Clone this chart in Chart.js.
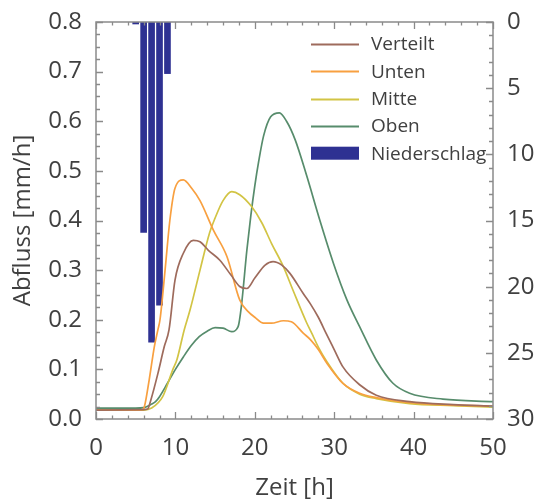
<!DOCTYPE html>
<html>
<head>
<meta charset="utf-8">
<script src="https://cdn.jsdelivr.net/npm/chart.js@4/dist/chart.umd.min.js"></script>
<style>
  html, body { margin: 0; padding: 0; background: #ffffff; }
  #wrap { width: 538px; height: 503px; }
</style>
</head>
<body>
<div id="wrap"><canvas id="c" width="538" height="503"></canvas></div>
<script>
// ---- Data ----
const seriesLabels = ['Verteilt', 'Unten', 'Mitte', 'Oben', 'Niederschlag'];

const verteiltT = [0, 6, 6.5, 6.9, 7.8, 8.6, 9.2, 9.95, 11, 12.25, 13.1, 14.15, 15.6, 17, 18.1, 19, 20, 21.3, 22.3, 23.4, 24.4, 26.1, 27, 28, 29, 30, 31.1, 33.2, 35.3, 39.5, 45, 50];
const verteiltV = [0.018, 0.019, 0.02, 0.038, 0.092, 0.146, 0.18, 0.28, 0.334, 0.36, 0.357, 0.34, 0.32, 0.29, 0.267, 0.263, 0.284, 0.31, 0.317, 0.31, 0.294, 0.253, 0.232, 0.205, 0.172, 0.14, 0.105, 0.069, 0.048, 0.035, 0.029, 0.026];

const untenT = [0, 5.5, 5.9, 6.1, 6.7, 7.35, 7.8, 8.06, 8.7, 9.3, 9.95, 11, 12.05, 13.1, 14.8, 16.5, 18.1, 19.2, 20, 21.1, 22.1, 23.6, 24.6, 26.1, 27, 28, 29.1, 31.1, 33.2, 35.3, 39.5, 45, 50];
const untenV = [0.018, 0.018, 0.019, 0.025, 0.079, 0.146, 0.18, 0.2, 0.30, 0.40, 0.465, 0.482, 0.465, 0.44, 0.38, 0.327, 0.24, 0.216, 0.205, 0.193, 0.193, 0.198, 0.196, 0.173, 0.16, 0.14, 0.112, 0.072, 0.052, 0.043, 0.033, 0.028, 0.026];

const mitteT = [0, 6, 7, 8.4, 9.66, 10.2, 11.1, 11.85, 13.1, 14.3, 15, 16, 17.1, 18.1, 19.6, 20.9, 22.1, 23.6, 24.8, 26.5, 27.2, 28, 29.1, 31.1, 33.2, 35.3, 39.5, 45, 50];
const mitteV = [0.018, 0.018, 0.022, 0.045, 0.099, 0.12, 0.179, 0.22, 0.30, 0.375, 0.405, 0.44, 0.458, 0.452, 0.428, 0.395, 0.354, 0.307, 0.26, 0.195, 0.172, 0.145, 0.115, 0.072, 0.05, 0.041, 0.031, 0.027, 0.024];

const obenT = [0, 5, 6, 7, 7.5, 8, 9, 10, 11, 12, 13, 14, 15, 16, 17.1, 17.9, 18.3, 19, 19.5, 20, 20.5, 21.1, 22, 23.1, 24, 25.1, 26.5, 28.2, 29.9, 31.6, 33.2, 35.3, 37.4, 39.5, 43.7, 50];
const obenV = [0.022, 0.022, 0.023, 0.03, 0.035, 0.045, 0.072, 0.1, 0.125, 0.148, 0.166, 0.177, 0.184, 0.183, 0.176, 0.186, 0.226, 0.34, 0.41, 0.47, 0.52, 0.57, 0.609, 0.617, 0.6, 0.562, 0.492, 0.40, 0.314, 0.24, 0.186, 0.119, 0.072, 0.052, 0.04, 0.035];

const niederschlagT = [5, 6, 7, 8, 9];
const niederschlagV = [0.15, 15.9, 24.2, 21.4, 3.9];

const xTickValues = [0, 10, 20, 30, 40, 50];
const yTickValues = [0.0, 0.1, 0.2, 0.3, 0.4, 0.5, 0.6, 0.7, 0.8];
const y2TickValues = [0, 5, 10, 15, 20, 25, 30];

// ---- helpers ----
const pts = (t, v) => t.map((x, i) => ({ x: x, y: v[i] }));
const TEXT = '#404040';
const FRAME = '#8a8a8a';
const FONT = "'Open Sans', 'Noto Sans', sans-serif";

const colors = {
  Verteilt: '#9e6b5c',
  Unten: '#f8a040',
  Mitte: '#d2c444',
  Oben: '#578c6c',
  Niederschlag: '#2e3192'
};

function lineDs(label, t, v) {
  return {
    type: 'line', label: label, data: pts(t, v),
    borderColor: colors[label], backgroundColor: colors[label],
    borderWidth: 1.7, pointRadius: 0, fill: false,
    cubicInterpolationMode: 'monotone', yAxisID: 'y', order: 1
  };
}

// inward tick marks + frame
const frameTicks = {
  id: 'frameTicks',
  afterDatasetsDraw(chart) {
    const { ctx, chartArea: a, scales } = chart;
    ctx.save();
    ctx.strokeStyle = FRAME;
    ctx.lineWidth = 1.3;
    ctx.beginPath();
    scales.x.ticks.forEach(tk => {
      const px = Math.round(scales.x.getPixelForValue(tk.value)) + 0.5;
      const major = xTickValues.includes(tk.value);
      const len = major ? 7 : 3.5;
      ctx.moveTo(px, a.bottom); ctx.lineTo(px, a.bottom - len);
      ctx.moveTo(px, a.top); ctx.lineTo(px, a.top + len);
    });
    scales.y.ticks.forEach(tk => {
      const py = Math.round(scales.y.getPixelForValue(tk.value)) + 0.5;
      const major = yTickValues.some(v => Math.abs(v - tk.value) < 1e-6);
      const len = major ? 7 : 4;
      ctx.moveTo(a.left, py); ctx.lineTo(a.left + len, py);
    });
    scales.y2.ticks.forEach(tk => {
      const py = Math.round(scales.y2.getPixelForValue(tk.value)) + 0.5;
      const major = y2TickValues.includes(tk.value);
      const len = major ? 7 : 4;
      ctx.moveTo(a.right, py); ctx.lineTo(a.right - len, py);
    });
    ctx.stroke();
    ctx.lineWidth = 1.5;
    ctx.strokeRect(a.left, a.top, a.right - a.left, a.bottom - a.top);
    ctx.restore();
  }
};

// legend inside the plot area
const insideLegend = {
  id: 'insideLegend',
  afterDraw(chart) {
    const { ctx, chartArea: a } = chart;
    const x0 = a.left + 215, lineW = 48, textX = a.left + 275;
    const y0 = a.top + 22, dy = 27.3;
    ctx.save();
    ctx.font = "19px " + FONT;
    ctx.textBaseline = 'middle';
    ctx.textAlign = 'left';
    chart.data.datasets.forEach((ds, i) => {
      const y = y0 + i * dy;
      if (ds.type === 'bar') {
        ctx.fillStyle = ds.backgroundColor;
        ctx.fillRect(x0, y - 6.5, lineW, 13);
      } else {
        ctx.strokeStyle = ds.borderColor;
        ctx.lineWidth = 2;
        ctx.beginPath();
        ctx.moveTo(x0, Math.round(y) + 0.5); ctx.lineTo(x0 + lineW, Math.round(y) + 0.5);
        ctx.stroke();
      }
      ctx.fillStyle = TEXT;
      ctx.fillText(ds.label, textX, y + 1);
    });
    ctx.restore();
  }
};

const tickFont = { family: FONT, size: 24 };

new Chart(document.getElementById('c'), {
  type: 'line',
  data: {
    datasets: [
      lineDs('Verteilt', verteiltT, verteiltV),
      lineDs('Unten', untenT, untenV),
      lineDs('Mitte', mitteT, mitteV),
      lineDs('Oben', obenT, obenV),
      {
        type: 'bar', label: 'Niederschlag', data: pts(niederschlagT, niederschlagV),
        backgroundColor: colors.Niederschlag, borderWidth: 0,
        barThickness: 6, grouped: false, yAxisID: 'y2', order: 2
      }
    ]
  },
  options: {
    responsive: false,
    animation: false,
    devicePixelRatio: 1,
    layout: { padding: { top: 22, left: 0, right: 0, bottom: 0 } },
    plugins: { legend: { display: false }, tooltip: { enabled: false } },
    scales: {
      x: {
        type: 'linear', min: 0, max: 50, offset: false,
        grid: { display: false, drawTicks: false, tickLength: 0 },
        border: { display: false },
        ticks: {
          stepSize: 2, autoSkip: false, maxRotation: 0, padding: 15,
          color: TEXT, font: tickFont,
          callback: v => xTickValues.includes(v) ? String(v) : ''
        },
        title: { display: true, text: 'Zeit [h]', color: TEXT, font: tickFont, padding: { top: -1, bottom: 0 } },
        afterFit: s => { s.height = 84; s.paddingLeft = 0; s.paddingRight = 0; }
      },
      y: {
        type: 'linear', position: 'left', min: 0, max: 0.8,
        grid: { display: false, drawTicks: false, tickLength: 0 },
        border: { display: false },
        ticks: {
          stepSize: 0.025, autoSkip: false, padding: 14,
          color: TEXT, font: tickFont,
          callback: v => {
            const m = yTickValues.find(t => Math.abs(t - v) < 1e-6);
            return m !== undefined ? m.toFixed(1) : '';
          }
        },
        title: { display: true, text: 'Abfluss [mm/h]', color: TEXT, font: tickFont, padding: { top: 9, bottom: 0 } },
        afterFit: s => { s.width = 96; s.paddingTop = 0; s.paddingBottom = 0; }
      },
      y2: {
        type: 'linear', position: 'right', min: 0, max: 30, reverse: true,
        grid: { display: false, drawTicks: false, tickLength: 0 },
        border: { display: false },
        ticks: {
          stepSize: 1, autoSkip: false, padding: 14,
          color: TEXT, font: tickFont,
          callback: v => y2TickValues.includes(v) ? String(v) : ''
        },
        afterFit: s => { s.width = 45; s.paddingTop = 0; s.paddingBottom = 0; }
      }
    }
  },
  plugins: [frameTicks, insideLegend]
});
</script>
</body>
</html>
